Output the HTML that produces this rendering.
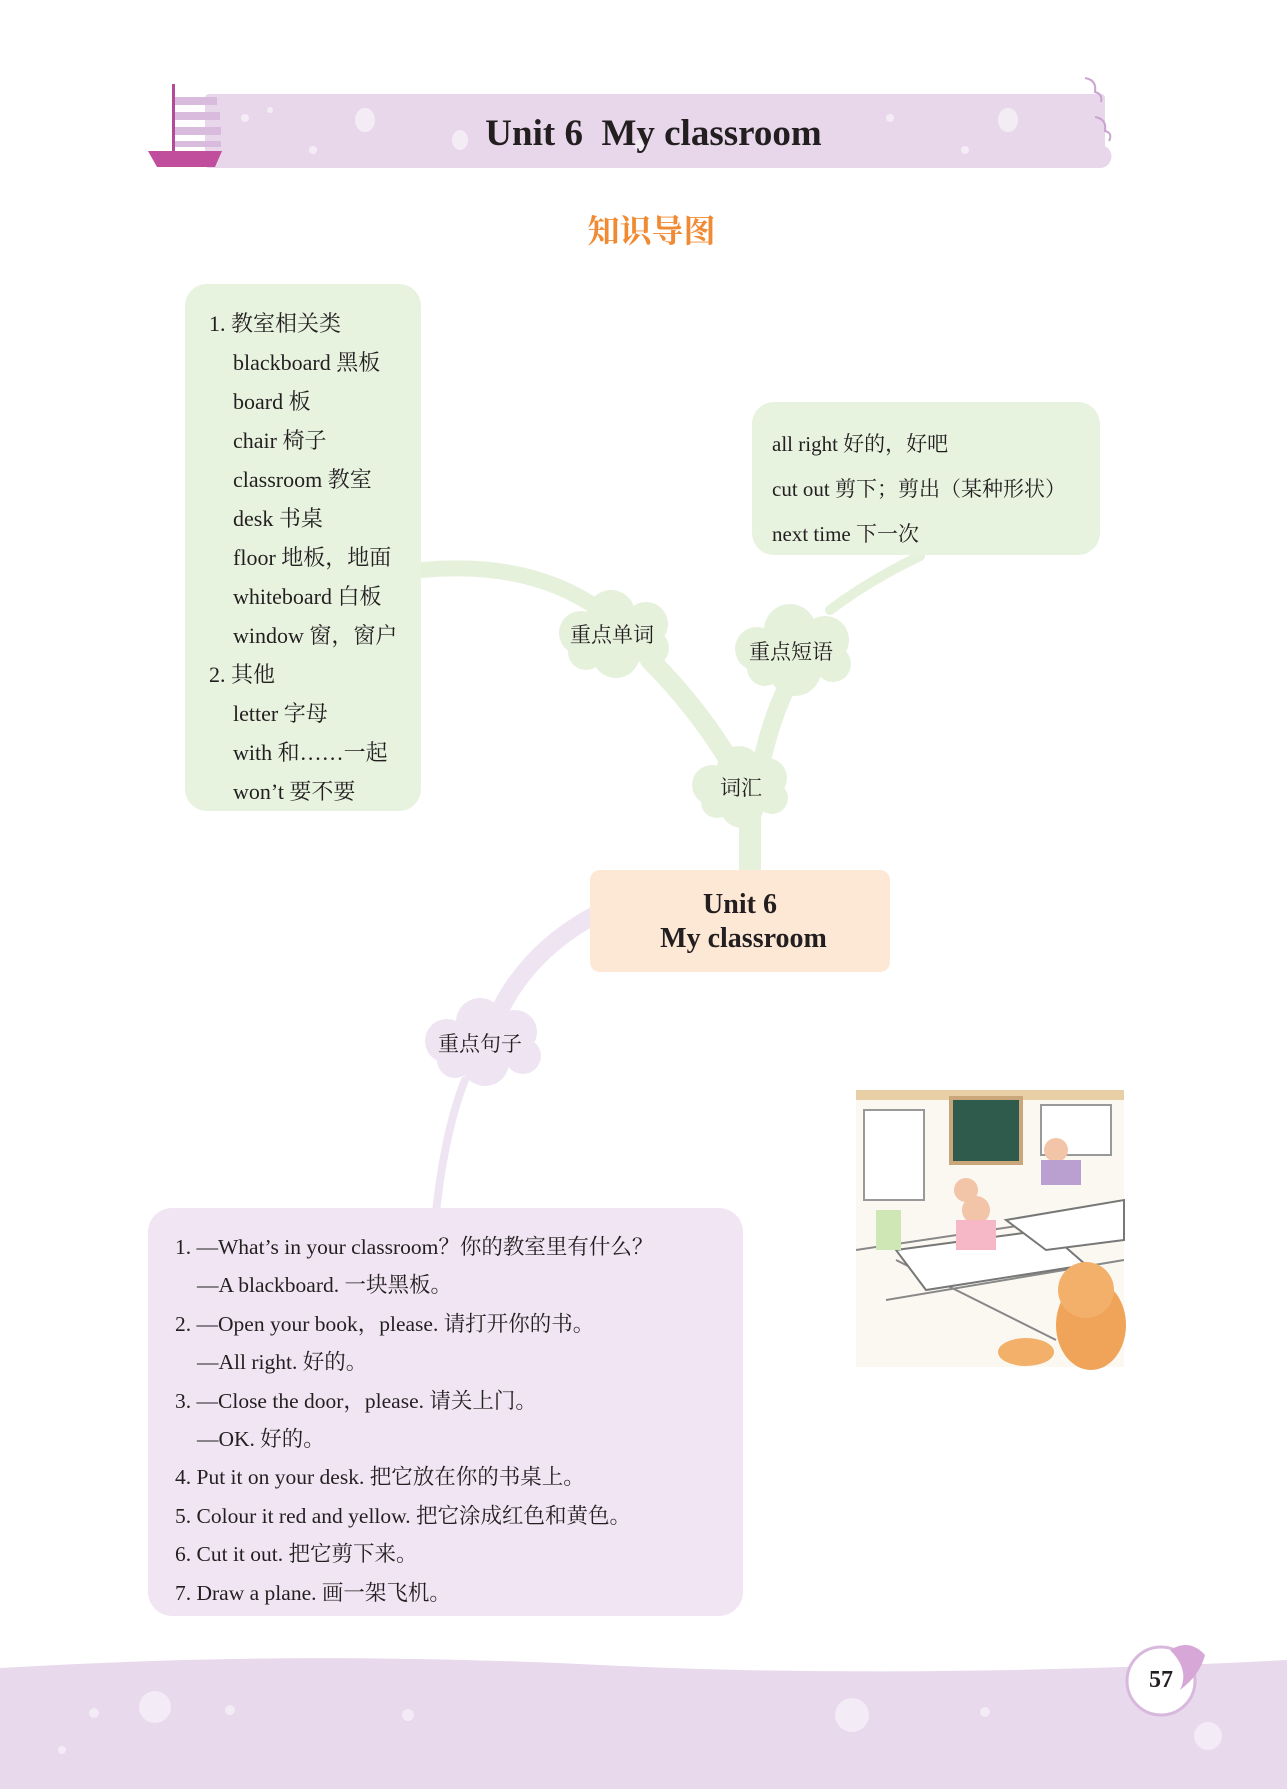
<!DOCTYPE html>
<html><head><meta charset="utf-8"><style>
body{margin:0;background:#fff;}
#p{position:relative;width:1287px;height:1789px;overflow:hidden;font-family:"Liberation Serif","Noto Serif CJK SC",serif;color:#231f20;}
.t{position:absolute;white-space:nowrap;font-size:21px;line-height:24px;}
svg{position:absolute;left:0;top:0;}
</style></head><body><div id="p">
<svg width="1287" height="1789" viewBox="0 0 1287 1789">
<rect x="205" y="94" width="900" height="74" rx="4" fill="#e8d7eb"/>
<path d="M1060 94 H1080 a12 12 0 0 1 0 22 H1060Z" fill="#e8d7eb"/>
<path d="M1060 120 H1092 a12 12 0 0 1 0 22 H1060Z" fill="#e8d7eb"/>
<path d="M1060 145 H1100 a11 11 0 0 1 0 23 H1060Z" fill="#e8d7eb"/>
<path d="M1085 78 q12 2 10 14 q8 2 6 10" stroke="#c9a4cf" stroke-width="2" fill="none"/>
<path d="M1095 117 q12 2 10 14 q8 2 4 10" stroke="#c9a4cf" stroke-width="2" fill="none"/>
<g fill="#f4ecf5"><ellipse cx="365" cy="120" rx="10" ry="12"/><ellipse cx="460" cy="140" rx="8" ry="10"/><ellipse cx="1008" cy="120" rx="10" ry="12"/><circle cx="245" cy="118" r="4"/><circle cx="270" cy="110" r="3"/><circle cx="313" cy="150" r="4"/><circle cx="890" cy="118" r="4"/><circle cx="965" cy="150" r="4"/><circle cx="640" cy="145" r="6"/></g>
<g fill="#d9bcdd"><rect x="174" y="97" width="43" height="8"/><rect x="174" y="112" width="46" height="8"/><rect x="174" y="127" width="47" height="8"/><rect x="174" y="141" width="47" height="6"/></g>
<rect x="172" y="84" width="3" height="70" fill="#b44a9a"/>
<path d="M148 151 h74 l-7 16 h-58z" fill="#c04e9c"/>
<g fill="none" stroke="#e6f1dc" stroke-linecap="round">
<path d="M422 570 Q530 560 600 610" stroke-width="16"/>
<path d="M650 660 Q700 710 735 770" stroke-width="20"/>
<path d="M760 770 Q770 720 790 680" stroke-width="18"/>
<path d="M830 610 Q870 580 920 556" stroke-width="10"/>
<path d="M750 790 V875" stroke-width="22" stroke-linecap="butt"/>
</g>
<g fill="none" stroke="#efe4f2" stroke-linecap="round">
<path d="M595 915 Q530 950 500 1010" stroke-width="18"/>
<path d="M465 1080 Q445 1130 436 1212" stroke-width="8"/>
</g>
<rect x="185" y="284" width="236" height="527" rx="22" fill="#e7f2df"/>
<rect x="752" y="402" width="348" height="153" rx="22" fill="#e7f2df"/>
<rect x="590" y="870" width="300" height="102" rx="10" fill="#fde8d6"/>
<rect x="148" y="1208" width="595" height="408" rx="24" fill="#f1e5f3"/>
<g fill="#e6f1dc">
<g transform="translate(616,636)"><circle cx="-35" cy="-3" r="22"/><circle cx="-5" cy="-22" r="24"/><circle cx="30" cy="-12" r="22"/><circle cx="35" cy="12" r="18"/><circle cx="0" cy="18" r="24"/><circle cx="-30" cy="16" r="18"/></g>
<g transform="translate(795,652)"><circle cx="-38" cy="-3" r="22"/><circle cx="-5" cy="-22" r="26"/><circle cx="30" cy="-12" r="24"/><circle cx="38" cy="12" r="18"/><circle cx="0" cy="18" r="26"/><circle cx="-30" cy="16" r="18"/></g>
<g transform="translate(742,788)"><circle cx="-30" cy="-3" r="20"/><circle cx="-3" cy="-20" r="22"/><circle cx="25" cy="-10" r="20"/><circle cx="30" cy="10" r="16"/><circle cx="0" cy="18" r="22"/><circle cx="-25" cy="14" r="16"/></g>
</g>
<g fill="#efe4f2" transform="translate(485,1044)"><circle cx="-38" cy="-3" r="22"/><circle cx="-5" cy="-22" r="24"/><circle cx="30" cy="-12" r="22"/><circle cx="38" cy="12" r="18"/><circle cx="0" cy="18" r="24"/><circle cx="-30" cy="16" r="18"/></g>
<g transform="translate(856,1090)">
<rect width="268" height="277" fill="#fbf8f2"/>
<rect x="0" y="0" width="268" height="10" fill="#e8cfa6"/>
<rect x="95" y="8" width="70" height="65" fill="#2f5b4d" stroke="#caa77a" stroke-width="4"/>
<rect x="8" y="20" width="60" height="90" fill="#fff" stroke="#999" stroke-width="2"/>
<rect x="185" y="15" width="70" height="50" fill="#fff" stroke="#999" stroke-width="2"/>
<path d="M0 160 L268 120 M30 210 L268 170 M40 170 L200 250" stroke="#888" stroke-width="2" fill="none"/>
<path d="M40 160 L190 140 L230 175 L70 200Z" fill="#fff" stroke="#777" stroke-width="2"/>
<path d="M150 130 L268 110 L268 150 L190 160Z" fill="#fff" stroke="#777" stroke-width="2"/>
<circle cx="120" cy="120" r="14" fill="#f2c4a8"/><circle cx="110" cy="100" r="12" fill="#f2c4a8"/>
<rect x="100" y="130" width="40" height="30" fill="#f6b8c6"/>
<circle cx="200" cy="60" r="12" fill="#f2c4a8"/><rect x="185" y="70" width="40" height="25" fill="#b9a0d0"/>
<rect x="20" y="120" width="25" height="40" fill="#cfe6b5"/>
<ellipse cx="235" cy="235" rx="35" ry="45" fill="#f0a45a"/><circle cx="230" cy="200" r="28" fill="#f3b06a"/>
<ellipse cx="170" cy="262" rx="28" ry="14" fill="#f3b06a"/>
</g>
<path d="M0 1668 Q300 1650 600 1665 Q900 1680 1287 1660 V1789 H0Z" fill="#e8d9ec"/>
<g fill="#f3ebf5"><circle cx="155" cy="1707" r="16"/><circle cx="852" cy="1715" r="17"/><circle cx="1208" cy="1736" r="14"/><circle cx="94" cy="1713" r="5"/><circle cx="230" cy="1710" r="5"/><circle cx="408" cy="1715" r="6"/><circle cx="985" cy="1712" r="5"/><circle cx="62" cy="1750" r="4"/></g>
<circle cx="1161" cy="1681" r="34" fill="#fff" stroke="#d8b9dd" stroke-width="3"/>
<path d="M1170 1650 q20 -12 35 5 q-5 20 -25 35 q10 -20 -10 -40z" fill="#d7a7d8"/>
</svg>
<div class="t" style="left:0;width:1287px;top:114px;text-align:center;font-size:37px;line-height:40px;font-weight:bold;padding-left:10px;">Unit 6&nbsp;&nbsp;My classroom</div>
<div class="t" style="left:0;width:1287px;top:211px;text-align:center;font-size:32px;line-height:36px;color:#f08a33;font-weight:bold;font-family:'Noto Serif CJK SC',serif;padding-left:8px;">知识导图</div>

<div class="t" style="left:209px;top:304px;line-height:39px;font-size:22px;">1. 教室相关类<br><span style="padding-left:24px">blackboard 黑板</span><br><span style="padding-left:24px">board 板</span><br><span style="padding-left:24px">chair 椅子</span><br><span style="padding-left:24px">classroom 教室</span><br><span style="padding-left:24px">desk 书桌</span><br><span style="padding-left:24px">floor 地板，地面</span><br><span style="padding-left:24px">whiteboard 白板</span><br><span style="padding-left:24px">window 窗，窗户</span><br>2. 其他<br><span style="padding-left:24px">letter 字母</span><br><span style="padding-left:24px">with 和……一起</span><br><span style="padding-left:24px">won’t 要不要</span></div>

<div class="t" style="left:772px;top:422px;line-height:45px;">all right 好的，好吧<br>cut out 剪下；剪出（某种形状）<br>next time 下一次</div>

<div class="t" style="left:570px;top:623px;">重点单词</div>
<div class="t" style="left:749px;top:640px;">重点短语</div>
<div class="t" style="left:720px;top:776px;">词汇</div>
<div class="t" style="left:438px;top:1032px;">重点句子</div>

<div class="t" style="left:590px;width:300px;top:888px;text-align:center;font-size:28px;line-height:34px;font-weight:bold;">Unit 6<br>&nbsp;My classroom</div>

<div class="t" style="left:175px;top:1228px;line-height:38.4px;font-size:21.5px;">1. —What’s in your classroom？你的教室里有什么？<br><span style="padding-left:22px">—A blackboard. 一块黑板。</span><br>2. —Open your book，please. 请打开你的书。<br><span style="padding-left:22px">—All right. 好的。</span><br>3. —Close the door，please. 请关上门。<br><span style="padding-left:22px">—OK. 好的。</span><br>4. Put it on your desk. 把它放在你的书桌上。<br>5. Colour it red and yellow. 把它涂成红色和黄色。<br>6. Cut it out. 把它剪下来。<br>7. Draw a plane. 画一架飞机。</div>

<div class="t" style="left:1127px;top:1668px;width:68px;text-align:center;font-size:24px;font-weight:bold;">57</div>
</div></body></html>
